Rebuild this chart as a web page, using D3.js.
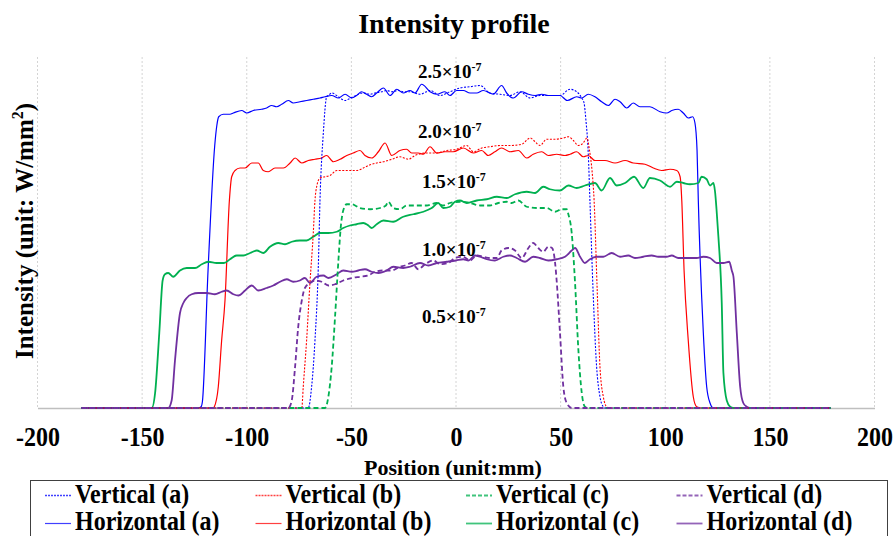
<!DOCTYPE html>
<html><head><meta charset="utf-8">
<script src="https://cdn.jsdelivr.net/npm/d3@7"></script>
<style>
html,body{margin:0;padding:0;background:#fff;}
text{font-family:"Liberation Serif","Times New Roman",serif;font-weight:bold;fill:#000;}
</style></head>
<body><svg id="c" width="894" height="536"></svg>
<script>
// ---------- DATA (x: mm, y: intensity in units of 1e-7 W/mm^2) ----------
const xTicks = [-200,-150,-100,-50,0,50,100,150,200];
const levelLabels = ["2.5","2.0","1.5","1.0","0.5"];

const verticalA = [[-179,0],[-70.6,0],[-69.0,0.17],[-67.4,0.54],[-65.8,1.13],[-65.0,1.66],[-63.4,2.20],[-61.8,2.49],[-61.0,2.50],[-59.4,2.52],[-57.0,2.50],[-55.4,2.48],[-53.0,2.46],[-51.5,2.47],[-49.1,2.49],[-46.7,2.51],[-44.3,2.52],[-41.1,2.51],[-38.7,2.52],[-35.5,2.53],[-33.1,2.54],[-30.7,2.53],[-27.6,2.54],[-25.2,2.53],[-22.0,2.53],[-17.2,2.51],[-12.4,2.54],[-7.6,2.50],[-2.9,2.53],[1.9,2.56],[6.7,2.57],[11.5,2.58],[16.2,2.52],[21.0,2.51],[25.8,2.50],[30.6,2.53],[35.4,2.48],[40.1,2.50],[44.9,2.50],[49.7,2.50],[54.5,2.55],[57.7,2.53],[60.1,2.48],[61.2,2.44],[62.1,2.30],[63.2,2.04],[64.0,1.66],[65.5,0.94],[67.2,0.33],[68.8,0.09],[70.4,0.01],[71.2,0],[179,0]];
const verticalB = [[-179,0],[-73.7,0],[-73.0,0.17],[-71.4,0.54],[-69.8,1.00],[-68.2,1.40],[-67.4,1.66],[-66.6,1.77],[-65.0,1.84],[-62.6,1.85],[-60.2,1.86],[-57.0,1.90],[-52.2,1.90],[-47.5,1.90],[-44.3,1.92],[-41.9,1.94],[-37.9,1.96],[-34.7,1.97],[-30.7,1.99],[-26.8,2.01],[-22.8,1.99],[-19.6,2.02],[-14.0,2.04],[-9.2,2.04],[-4.4,2.06],[0.3,2.07],[5.1,2.10],[8.3,2.05],[12.3,2.08],[16.2,2.09],[21.0,2.10],[25.8,2.10],[31.4,2.11],[35.4,2.16],[37.8,2.13],[40.1,2.10],[43.3,2.15],[47.3,2.15],[51.3,2.16],[53.7,2.17],[56.1,2.14],[58.5,2.10],[60.8,2.12],[62.6,2.16],[63.8,2.06],[65.0,1.90],[66.0,1.66],[67.4,0.98],[68.8,0.33],[70.4,0.09],[72.0,0.01],[73.5,0],[179,0]];
const verticalC = [[-179,0],[-62.6,0],[-61.0,0.09],[-59.4,0.33],[-57.8,0.73],[-56.2,1.18],[-55.0,1.46],[-53.9,1.58],[-52.2,1.63],[-49.8,1.63],[-45.9,1.60],[-41.1,1.59],[-36.3,1.60],[-33.5,1.62],[-32.4,1.65],[-30.0,1.60],[-26.8,1.59],[-23.6,1.62],[-18.8,1.62],[-14.0,1.62],[-9.2,1.64],[-6.1,1.62],[-2.9,1.64],[1.9,1.65],[6.7,1.64],[11.5,1.62],[16.2,1.62],[20.2,1.64],[24.2,1.65],[26.6,1.64],[29.8,1.66],[33.8,1.61],[38.6,1.60],[43.3,1.60],[47.3,1.57],[50.5,1.59],[52.9,1.59],[53.7,1.55],[55.3,1.40],[56.9,1.00],[58.5,0.46],[60.1,0.12],[61.6,0.01],[63,0],[179,0]];
const verticalD = [[-179,0],[-80.1,0],[-78.5,0.06],[-76.9,0.33],[-75.4,0.65],[-73.7,0.86],[-72.2,0.96],[-69.8,1.00],[-67.4,1.02],[-64.2,1.01],[-61.0,0.98],[-57.8,0.99],[-53.9,1.02],[-49.8,1.04],[-45.9,1.05],[-41.9,1.06],[-38.7,1.09],[-34.7,1.10],[-30.7,1.10],[-26.8,1.13],[-24.4,1.14],[-21.2,1.16],[-18.0,1.11],[-14.8,1.15],[-10.8,1.18],[-7.6,1.15],[-3.7,1.16],[-0.5,1.20],[3.5,1.21],[6.7,1.18],[9.9,1.22],[13.0,1.21],[16.2,1.20],[19.5,1.20],[21.8,1.26],[25.0,1.28],[28.2,1.26],[31.4,1.20],[34.6,1.28],[36.9,1.32],[39.3,1.28],[41.7,1.25],[44.1,1.29],[45.9,1.28],[47.3,1.17],[48.1,1.02],[49.7,0.60],[51.3,0.17],[52.9,0.04],[55.3,0],[179,0]];

const horizontalA = [[-179,0],[-123,0],[-121.8,0.01],[-121.2,0.05],[-118.5,1.1],[-115.3,2.1],[-114.3,2.26],[-113.4,2.33],[-111.2,2.35],[-108.0,2.35],[-106.4,2.36],[-102.4,2.38],[-100.0,2.36],[-96.9,2.38],[-92.9,2.39],[-90.5,2.40],[-88.1,2.42],[-85.7,2.41],[-83.3,2.43],[-80.1,2.46],[-77.8,2.44],[-74.6,2.45],[-71.4,2.46],[-68.2,2.47],[-65.0,2.48],[-62.6,2.49],[-59.4,2.50],[-56.2,2.48],[-53.0,2.51],[-49.8,2.48],[-47.5,2.50],[-45.1,2.53],[-42.7,2.51],[-40.3,2.49],[-37.9,2.52],[-34.7,2.56],[-31.5,2.50],[-28.3,2.55],[-25.2,2.52],[-22.0,2.54],[-19.6,2.52],[-16.4,2.59],[-12.4,2.53],[-9.2,2.51],[-5.3,2.53],[-2.9,2.50],[0.3,2.54],[3.5,2.54],[6.7,2.52],[9.9,2.52],[13.0,2.54],[16.2,2.52],[17.8,2.51],[21.8,2.58],[24.2,2.52],[27.4,2.48],[31.4,2.53],[34.6,2.51],[37.8,2.50],[41.0,2.51],[44.1,2.50],[49.7,2.50],[53.2,2.46],[57.7,2.49],[60.1,2.48],[63.2,2.51],[66.4,2.49],[69.6,2.45],[72.8,2.42],[76.0,2.47],[78.4,2.45],[81.6,2.40],[84.7,2.44],[87.9,2.41],[92.7,2.41],[97.5,2.37],[100.7,2.36],[103.1,2.38],[106.2,2.39],[108.6,2.36],[111.0,2.32],[113.1,2.33],[114.2,2.28],[115.2,2.06],[115.8,1.66],[118.2,0.60],[119.8,0.17],[121.4,0.04],[123.0,0],[179,0]];
const horizontalB = [[-179,0],[-116,0],[-115.5,0.01],[-113.6,0.17],[-112.0,0.54],[-110.4,0.86],[-108.3,1.66],[-107.2,1.85],[-105.6,1.90],[-103.2,1.92],[-100.8,1.92],[-97.6,1.96],[-94.5,1.96],[-92.1,1.90],[-89.7,1.89],[-86.5,1.92],[-82.5,1.92],[-79.3,1.96],[-76.9,2.00],[-73.7,1.96],[-70.6,1.98],[-67.4,1.99],[-64.2,2.00],[-61.8,2.02],[-58.6,1.97],[-55.4,1.99],[-52.2,2.02],[-49.1,2.04],[-45.9,2.06],[-43.5,2.02],[-40.3,2.00],[-37.1,2.05],[-33.9,2.12],[-30.7,2.02],[-26.8,2.06],[-23.6,2.07],[-21.2,2.04],[-18.0,2.04],[-15.6,2.03],[-12.4,2.09],[-9.2,2.04],[-5.3,2.05],[-1.3,2.05],[3.5,2.08],[8.3,2.04],[12.3,2.06],[15.4,2.02],[18.6,2.05],[21.8,2.08],[25.8,2.05],[29.8,2.06],[33.8,2.00],[36.9,2.03],[41.0,2.05],[44.1,2.02],[48.1,2.03],[52.1,2.02],[54.5,2.03],[57.7,2.05],[60.8,2.01],[63.2,2.02],[66.4,1.98],[71.2,1.98],[76.0,1.96],[80.8,1.98],[84.7,1.96],[90.3,1.95],[94.3,1.92],[98.3,1.90],[102.3,1.91],[105.5,1.90],[107.1,1.85],[107.9,1.66],[109.0,1.10],[111.0,0.54],[113.4,0.09],[115.0,0.01],[117,0],[179,0]];
const horizontalC = [[-179,0],[-145.4,0],[-143.8,0.12],[-141.8,0.60],[-140.2,1.02],[-139.1,1.07],[-137.5,1.08],[-135.1,1.05],[-131.9,1.10],[-128.7,1.12],[-124.7,1.12],[-121.5,1.15],[-118.4,1.17],[-114.4,1.16],[-110.9,1.16],[-108.0,1.19],[-104.8,1.22],[-101.6,1.22],[-98.4,1.24],[-95.2,1.26],[-92.1,1.24],[-88.9,1.29],[-84.9,1.32],[-81.7,1.31],[-78.5,1.33],[-74.6,1.34],[-71.4,1.34],[-68.2,1.37],[-65.0,1.40],[-61.0,1.40],[-57.0,1.41],[-53.9,1.44],[-50.7,1.46],[-47.5,1.47],[-44.3,1.48],[-41.9,1.46],[-40.3,1.44],[-37.9,1.47],[-34.7,1.50],[-30.0,1.49],[-25.2,1.53],[-20.4,1.55],[-15.6,1.57],[-11.6,1.60],[-8.5,1.64],[-6.1,1.60],[-2.9,1.61],[-0.5,1.65],[1.9,1.66],[5.1,1.64],[9.9,1.66],[14.7,1.67],[19.5,1.69],[24.2,1.68],[28.2,1.71],[33.8,1.73],[37.8,1.72],[41.7,1.77],[44.9,1.75],[49.7,1.74],[53.7,1.78],[57.7,1.76],[61.6,1.78],[66.4,1.80],[69.6,1.74],[73.6,1.84],[76.8,1.78],[80.8,1.80],[85.1,1.85],[89.5,1.76],[92.7,1.84],[97.5,1.82],[102.3,1.77],[105.5,1.81],[108.6,1.80],[111.8,1.79],[115.8,1.80],[117.4,1.85],[119.8,1.83],[121.4,1.78],[123.0,1.80],[123.8,1.73],[124.5,1.59],[125.4,1.37],[127.0,0.84],[127.8,0.28],[129.4,0.06],[131.0,0.01],[132.5,0],[179,0]];
const horizontalD = [[-179,0],[-137.5,0],[-135.9,0.06],[-134.3,0.38],[-131.9,0.76],[-130.3,0.84],[-128.7,0.88],[-126.3,0.91],[-123.2,0.92],[-119.1,0.92],[-115.2,0.91],[-112.0,0.93],[-109.6,0.94],[-106.4,0.91],[-104.0,0.90],[-100.8,0.94],[-97.6,0.98],[-94.5,0.94],[-90.5,0.96],[-87.3,0.98],[-84.1,1.01],[-80.9,1.03],[-77.8,1.01],[-74.6,1.02],[-72.2,1.04],[-69.8,1.00],[-66.6,1.05],[-63.4,1.06],[-61.0,1.04],[-57.0,1.07],[-53.9,1.10],[-49.8,1.09],[-46.7,1.10],[-43.5,1.11],[-40.3,1.09],[-37.1,1.08],[-33.1,1.10],[-30.0,1.13],[-25.2,1.12],[-22.0,1.13],[-17.2,1.16],[-13.2,1.14],[-9.2,1.16],[-4.4,1.17],[0,1.18],[3.5,1.19],[5.9,1.18],[9.1,1.22],[11.5,1.21],[14.7,1.19],[18.6,1.18],[22.6,1.21],[25.8,1.22],[29.0,1.20],[33.0,1.17],[36.9,1.21],[40.1,1.20],[44.1,1.18],[48.1,1.19],[52.1,1.21],[55.3,1.26],[56.9,1.28],[59.3,1.21],[61.6,1.16],[64.0,1.19],[67.2,1.21],[70.4,1.21],[74.4,1.24],[78.4,1.21],[82.3,1.22],[85.5,1.20],[89.5,1.21],[93.5,1.22],[96.7,1.21],[100.7,1.21],[103.1,1.22],[106.2,1.20],[110.3,1.20],[115.0,1.20],[118.2,1.21],[121.4,1.20],[124.6,1.16],[127.8,1.16],[130.6,1.17],[131.8,1.10],[132.6,1.05],[134.2,0.60],[135.8,0.17],[137.3,0.04],[138.9,0.01],[140.5,0],[179,0]];

const seriesNames = ["Vertical (a)","Vertical (b)","Vertical (c)","Vertical (d)","Horizontal (a)","Horizontal (b)","Horizontal (c)","Horizontal (d)"];
const seriesData = [verticalA, verticalB, verticalC, verticalD, horizontalA, horizontalB, horizontalC, horizontalD];

// ---------- STYLE ----------
const colors = ["#0000ff","#ff0000","#00b050","#7030a0","#0000ff","#ff0000","#00b050","#7030a0"];
const dashes = ["2,1.5","2,1.5","5,3","5,3",null,null,null,null];
const legendDashes = ["2,1","2,1","4,2","4,2",null,null,null,null];
const widths = [1.1,1.1,1.8,1.8,1.2,1.2,1.8,1.8];

const svg = d3.select("#c");
const x = d3.scaleLinear().domain([-200,200]).range([37.5,874.5]);
const y = d3.scaleLinear().domain([0,2.808]).range([408,57]);

// gridlines
svg.append("g").selectAll("line").data(xTicks).join("line")
  .attr("x1",d=>x(d)).attr("x2",d=>x(d)).attr("y1",y(2.808)).attr("y2",y(0))
  .attr("stroke","#d4d4d4").attr("stroke-width",1).attr("stroke-dasharray","2,2");

// x axis
const xAxis = d3.axisBottom(x).tickValues(xTicks).tickSize(0).tickPadding(0).tickFormat(d3.format("d"));
const gx = svg.append("g").attr("transform",`translate(0,${y(0)})`).call(xAxis);
gx.select(".domain").attr("stroke","#bfbfbf").attr("stroke-width",1.3);
gx.selectAll("text").attr("dy",null).attr("y",0).attr("transform","translate(0,38) scale(1,1.12)")
  .style("font-size","24px")
  .style("font-family","'Liberation Serif',serif").style("font-weight","bold").attr("fill","#000")
  .text(d=>d<0?"-"+Math.abs(d):d);

// lines
const line = d3.line().x(d=>x(d[0])).y(d=>y(d[1])).curve(d3.curveMonotoneX);
const order = [4,5,6,7,0,1,2,3];
order.forEach(i=>{
  svg.append("path").datum(seriesData[i]).attr("d",line)
    .attr("fill","none").attr("stroke",colors[i]).attr("stroke-width",widths[i])
    .attr("stroke-dasharray",dashes[i]).attr("stroke-linejoin","round");
});

// level annotations
const annX = [-18.2,-18.2,-16.2,-16.2,-16.2];
const annY = [2.64,2.16,1.763,1.213,0.678];
levelLabels.forEach((l,i)=>{
  const t = svg.append("text").attr("x",x(annX[i])).attr("y",y(annY[i])).style("font-size","19px");
  t.append("tspan").text(l+"×10");
  t.append("tspan").text("-7").attr("dy",-7).style("font-size","12px");
});

// title
svg.append("text").attr("x",454).attr("y",33).attr("text-anchor","middle")
  .style("font-size","28px").text("Intensity profile");
// x title
svg.append("text").attr("x",453).attr("y",475).attr("text-anchor","middle")
  .style("font-size","22px").text("Position (unit:mm)");
// y title
const yt = svg.append("text").attr("transform","translate(33,231) rotate(-90)").attr("text-anchor","middle")
  .style("font-size","25px");
yt.append("tspan").text("Intensity (unit: W/mm");
yt.append("tspan").text("2").attr("dy",-10).style("font-size","16px");
yt.append("tspan").text(")").attr("dy",10);

// legend
svg.append("rect").attr("x",30.5).attr("y",480.5).attr("width",857).attr("height",70)
  .attr("fill","#fff").attr("stroke","#404040").attr("stroke-width",1);
const rowLineY = [495.5,523.5], rowTextY = [503,530];
seriesNames.forEach((n,i)=>{
  const col = i%4, row = Math.floor(i/4);
  const lx = 45 + col*210.5, ly = rowLineY[row];
  svg.append("line").attr("x1",lx).attr("x2",lx+26).attr("y1",ly).attr("y2",ly)
    .attr("stroke",colors[i]).attr("stroke-opacity",0.75).attr("stroke-width",i<2?1.4:widths[i])
    .attr("stroke-dasharray",legendDashes[i]);
  svg.append("text").attr("transform",`translate(${lx+30},${rowTextY[row]}) scale(1,1.1)`)
    .style("font-size","24px").text(n);
});
</script></body></html>
